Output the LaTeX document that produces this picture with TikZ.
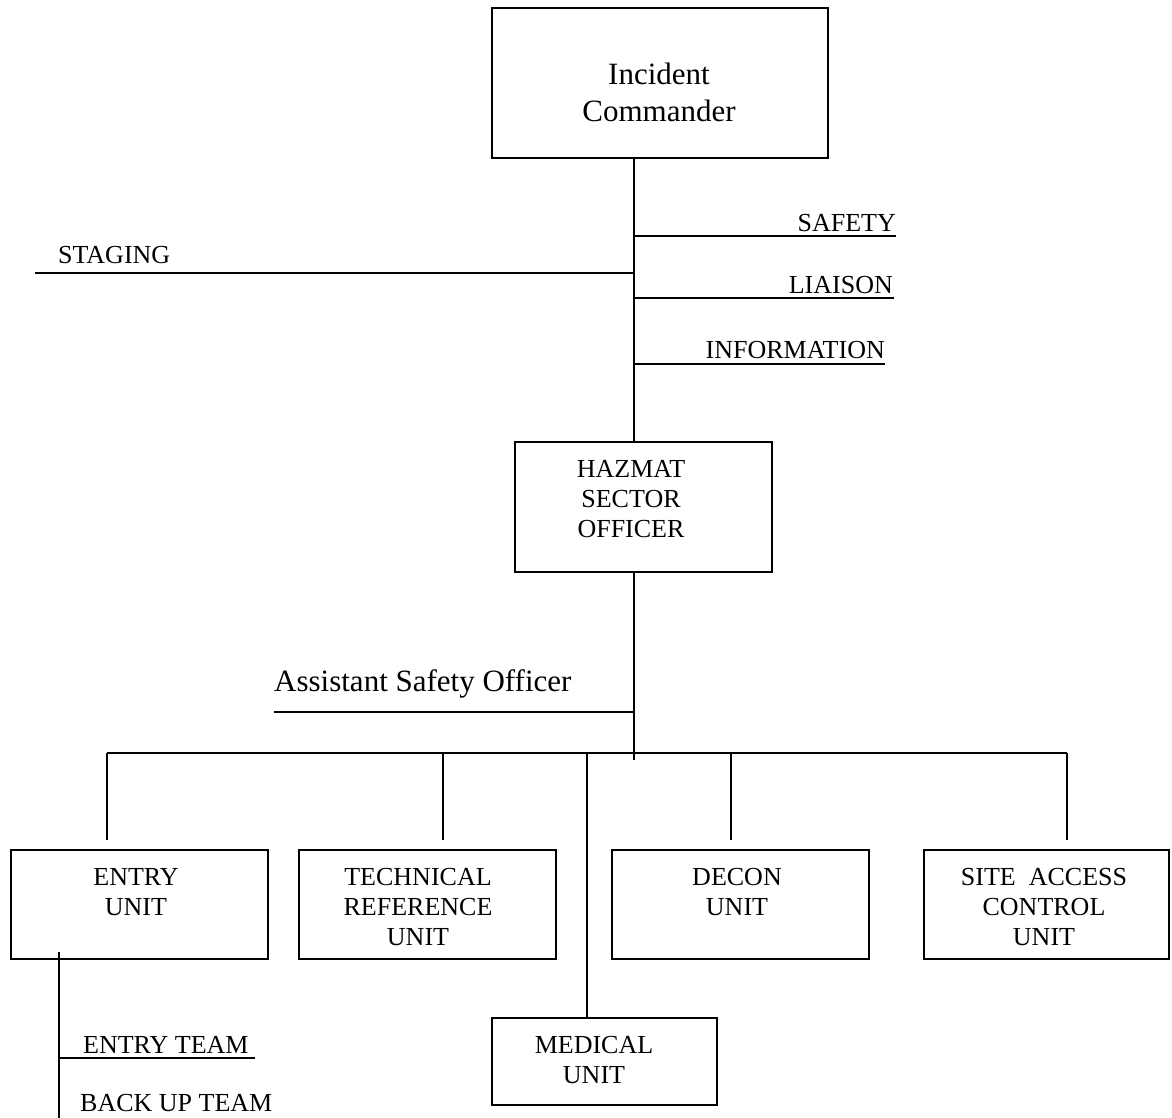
\documentclass[tikz,border=0pt]{standalone}
\usepackage{fontspec}
\setmainfont{Liberation Serif}
\begin{document}
\begin{tikzpicture}[x=1pt,y=-1pt,
  box/.style={draw, line width=1.6pt, inner sep=0pt, anchor=north west},
  sm/.style={font=\fontsize{26}{30}\selectfont, inner sep=0pt, align=center},
  bg/.style={font=\fontsize{31}{37}\selectfont, inner sep=0pt, align=center},
  ln/.style={line width=1.6pt}]
\useasboundingbox (0,0) rectangle (1172,1118);
% boxes
\node[box, minimum width=336pt, minimum height=150pt] (ic) at (491,7) {};
\node[box, minimum width=257pt, minimum height=130pt] (haz) at (514,441) {};
\node[box, minimum width=257pt, minimum height=109pt] (entry) at (10,849) {};
\node[box, minimum width=257pt, minimum height=109pt] (tech) at (298,849) {};
\node[box, minimum width=257pt, minimum height=109pt] (decon) at (611,849) {};
\node[box, minimum width=245pt, minimum height=109pt] (site) at (923,849) {};
\node[box, minimum width=225pt, minimum height=87pt] (med) at (491,1017) {};
% box texts
\node[bg, anchor=north] (ict) at (659,63) {Incident\\Commander};
\node[sm, anchor=north] (hazt) at (631,460) {HAZMAT\\SECTOR\\OFFICER};
\node[sm, anchor=north] (entryt) at (136,868) {ENTRY\\UNIT};
\node[sm, anchor=north] (techt) at (418,868) {TECHNICAL\\REFERENCE\\UNIT};
\node[sm, anchor=north] (decont) at (737,868) {DECON\\UNIT};
\node[sm, anchor=north] (sitet) at (1044,868) {SITE\ \ ACCESS\\CONTROL\\UNIT};
\node[sm, anchor=north] (medt) at (594,1036) {MEDICAL\\UNIT};
% labels
\node[sm, anchor=base east] (saf) at (896,231) {SAFETY};
\node[sm, anchor=base east] (lia) at (893,293) {LIAISON};
\node[sm, anchor=base east] (inf) at (885,358) {INFORMATION};
\node[sm, anchor=base west] (stg) at (58,263) {STAGING};
\node[bg, anchor=base west] (asot) at (274,691) {Assistant Safety Officer};
\node[sm, anchor=base west] (ett) at (83,1053) {ENTRY TEAM};
\node[sm, anchor=base west] (but) at (80,1111) {BACK UP TEAM};
% coordinates
\coordinate (t) at (634,0);
\coordinate (safE) at (896,236);
\coordinate (stgW) at (35,273);
\coordinate (liaE) at (894,298);
\coordinate (infE) at (885,364);
\coordinate (tend) at (634,760);
\coordinate (aso) at (274,712);
\coordinate (barL) at (107,753);
\coordinate (b2) at (443,753);
\coordinate (b3) at (587,753);
\coordinate (b4) at (731,753);
\coordinate (barR) at (1067,753);
\coordinate (dropEnd) at (0,840);
\coordinate (es) at (59,952);
\coordinate (esB) at (59,1118);
\coordinate (etE) at (255,1058);
% connectors
\draw[ln] (ic.south -| t) -- (haz.north -| t);
\draw[ln] (safE -| t) -- (safE);
\draw[ln] (stgW) -- (stgW -| t);
\draw[ln] (liaE -| t) -- (liaE);
\draw[ln] (infE -| t) -- (infE);
\draw[ln] (haz.south -| t) -- (tend);
\draw[ln] (aso) -- (aso -| t);
\draw[ln] (barL) -- (barR);
\draw[ln] (barL) -- (barL |- dropEnd);
\draw[ln] (b2) -- (b2 |- dropEnd);
\draw[ln] (b3) -- (b3 |- med.north);
\draw[ln] (b4) -- (b4 |- dropEnd);
\draw[ln] (barR) -- (barR |- dropEnd);
\draw[ln] (es) -- (esB);
\draw[ln] (etE -| es) -- (etE);
\end{tikzpicture}
\end{document}
